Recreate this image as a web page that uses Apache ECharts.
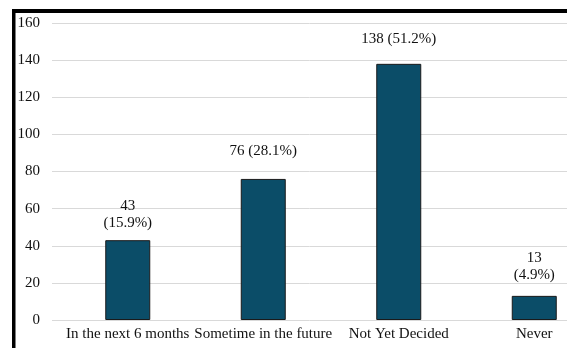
<!DOCTYPE html>
<html>
<head>
<meta charset="utf-8">
<title>Planned timing</title>
<script src="https://cdn.jsdelivr.net/npm/echarts@6/dist/echarts.min.js"></script>
<style>
  html, body { margin: 0; padding: 0; background: #ffffff; }
  #chart { width: 567px; height: 348px; }
</style>
</head>
<body>
<div id="chart"></div>
<script>
// Survey answers: when respondents plan to act
const categories = ['In the next 6 months', 'Sometime in the future', 'Not Yet Decided', 'Never'];
const counts = [43, 76, 138, 13];
const percents = [15.9, 28.1, 51.2, 4.9];
const yTicks = { min: 0, max: 160, step: 20 };

// Label layout per bar: stacked on two lines or single line, and gap above the bar
const labelTwoLines = [true, false, false, true];
const labelGap = [9, 19, 16, 12];

const FONT = "'Liberation Serif', 'Times New Roman', serif";
const TEXT = '#111111';
const BAR = '#0b4d68';

const chart = echarts.init(document.getElementById('chart'), null, { renderer: 'canvas' });

const barData = counts.map((v, i) => ({
  value: v,
  label: {
    distance: labelGap[i],
    formatter: () => labelTwoLines[i]
      ? v + '\n(' + percents[i].toFixed(1) + '%)'
      : v + ' (' + percents[i].toFixed(1) + '%)'
  }
}));

chart.setOption({
  animation: false,
  backgroundColor: '#ffffff',
  grid: [
    // gridlines and value labels
    { left: 52, right: 0, top: 23, bottom: 28, containLabel: false, outerBoundsMode: 'none' },
    // bars and category labels; the plot runs past the right edge of the canvas
    { left: 60, right: -35, top: 23, bottom: 28, containLabel: false, outerBoundsMode: 'none' }
  ],
  xAxis: [
    { type: 'category', gridIndex: 0, data: categories, show: false },
    {
      type: 'category', gridIndex: 1, data: categories,
      axisLine: { show: false }, axisTick: { show: false },
      axisLabel: { fontFamily: FONT, fontSize: 15, color: TEXT, margin: 7, interval: 0, hideOverlap: false },
      splitLine: { show: false }
    }
  ],
  yAxis: [
    {
      type: 'value', gridIndex: 0,
      min: yTicks.min, max: yTicks.max, interval: yTicks.step,
      axisLine: { show: false }, axisTick: { show: false },
      axisLabel: { fontFamily: FONT, fontSize: 15, color: TEXT, margin: 12 },
      splitLine: { show: true, lineStyle: { color: '#d9d9d9', width: 1 } }
    },
    {
      type: 'value', gridIndex: 1,
      min: yTicks.min, max: yTicks.max, interval: yTicks.step,
      show: false, splitLine: { show: false }
    }
  ],
  series: [{
    type: 'bar',
    xAxisIndex: 1, yAxisIndex: 1,
    data: barData,
    barWidth: 45,
    itemStyle: { color: BAR, borderColor: '#1a1a1a', borderWidth: 1 },
    label: {
      show: true, position: 'top',
      fontFamily: FONT, fontSize: 15, lineHeight: 17, color: TEXT, align: 'center'
    }
  }],
  graphic: [
    // dark frame along the top and left edges
    { type: 'rect', shape: { x: 12, y: 9, width: 560, height: 4 }, style: { fill: '#000000' }, z: 100 },
    { type: 'rect', shape: { x: 12, y: 9, width: 3.5, height: 345 }, style: { fill: '#000000' }, z: 100 }
  ]
});
</script>
</body>
</html>
